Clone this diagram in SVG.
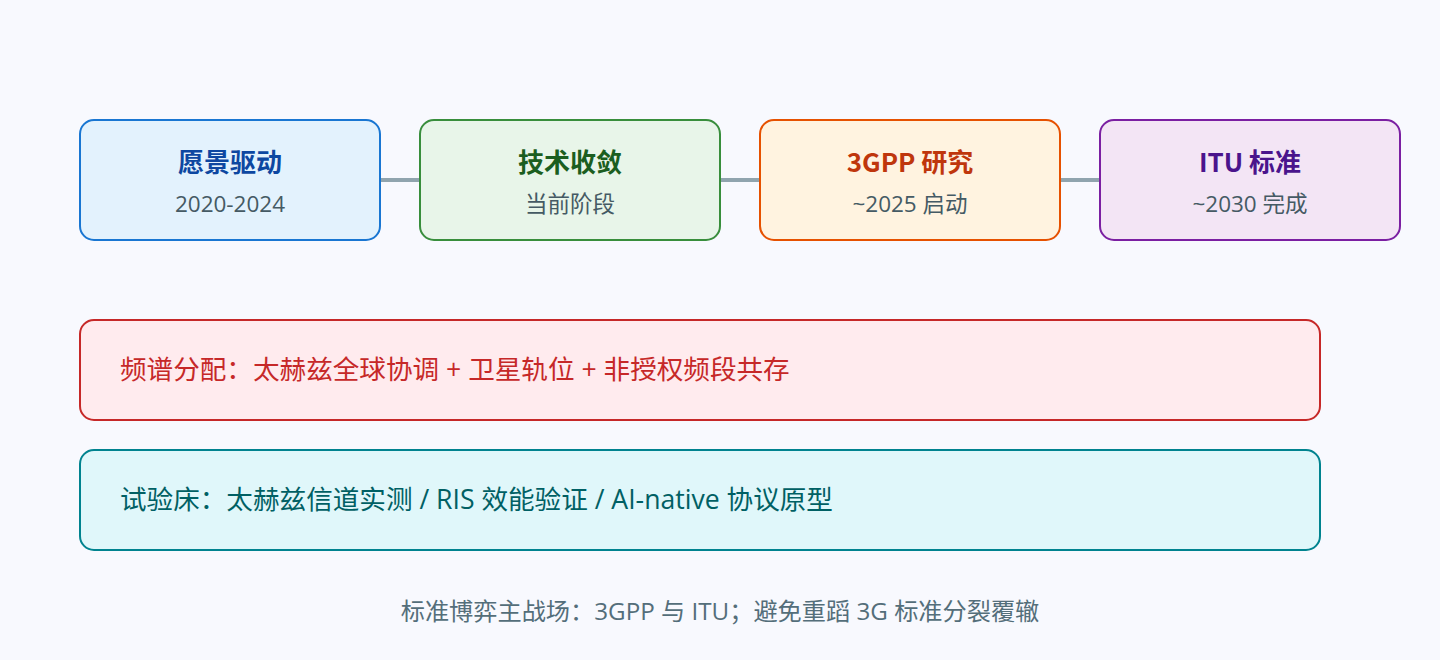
<svg xmlns="http://www.w3.org/2000/svg" width="1440" height="660" viewBox="0 0 1440 660">
<style>
text{font-family:"Open Sans","Noto Sans CJK SC",sans-serif}
.t{font-family:"Noto Sans CJK SC",sans-serif;font-size:26px;font-weight:700;text-anchor:middle}
.s{font-size:22.5px;fill:#455a64;text-anchor:middle}
.w{font-size:26.6px}
.conn{stroke:#90a4ae;stroke-width:4;fill:none}
</style>
<rect width="1440" height="660" fill="#f8f9fe"/>
<g id="connectors">
<line class="conn" x1="380" y1="180" x2="420" y2="180"/>
<line class="conn" x1="720" y1="180" x2="760" y2="180"/>
<line class="conn" x1="1060" y1="180" x2="1100" y2="180"/>
</g>
<g id="n1">
<rect x="80" y="120" width="300" height="120" rx="14" fill="#e3f2fd" stroke="#1976d2" stroke-width="2"/>
<text class="t" x="230" y="172" fill="#0d47a1">愿景驱动</text>
<text class="s" x="230" y="212">2020-2024</text>
</g>
<g id="n2">
<rect x="420" y="120" width="300" height="120" rx="14" fill="#e8f5e9" stroke="#388e3c" stroke-width="2"/>
<text class="t" x="570" y="172" fill="#1b5e20">技术收敛</text>
<text class="s" x="570" y="212">当前阶段</text>
</g>
<g id="n3">
<rect x="760" y="120" width="300" height="120" rx="14" fill="#fff3e0" stroke="#e65100" stroke-width="2"/>
<text class="t" x="910" y="172" fill="#bf360c">3GPP 研究</text>
<text class="s" x="910" y="212">~2025 启动</text>
</g>
<g id="n4">
<rect x="1100" y="120" width="300" height="120" rx="14" fill="#f3e5f5" stroke="#7b1fa2" stroke-width="2"/>
<text class="t" x="1250" y="172" fill="#4a148c">ITU 标准</text>
<text class="s" x="1250" y="212">~2030 完成</text>
</g>
<g id="spectrum">
<rect x="80" y="320" width="1240" height="100" rx="14" fill="#ffebee" stroke="#c62828" stroke-width="2"/>
<text class="w" x="120" y="379" fill="#c62828">频谱分配：太赫兹全球协调 + 卫星轨位 + 非授权频段共存</text>
</g>
<g id="testbed">
<rect x="80" y="450" width="1240" height="100" rx="14" fill="#e0f7fa" stroke="#00838f" stroke-width="2"/>
<text class="w" x="120" y="509" fill="#006064">试验床：太赫兹信道实测 / RIS 效能验证 / AI-native 协议原型</text>
</g>
<g id="footer">
<text x="720" y="620" font-size="24.2" fill="#546e7a" text-anchor="middle">标准博弈主战场：3GPP 与 ITU；避免重蹈 3G 标准分裂覆辙</text>
</g>
</svg>
